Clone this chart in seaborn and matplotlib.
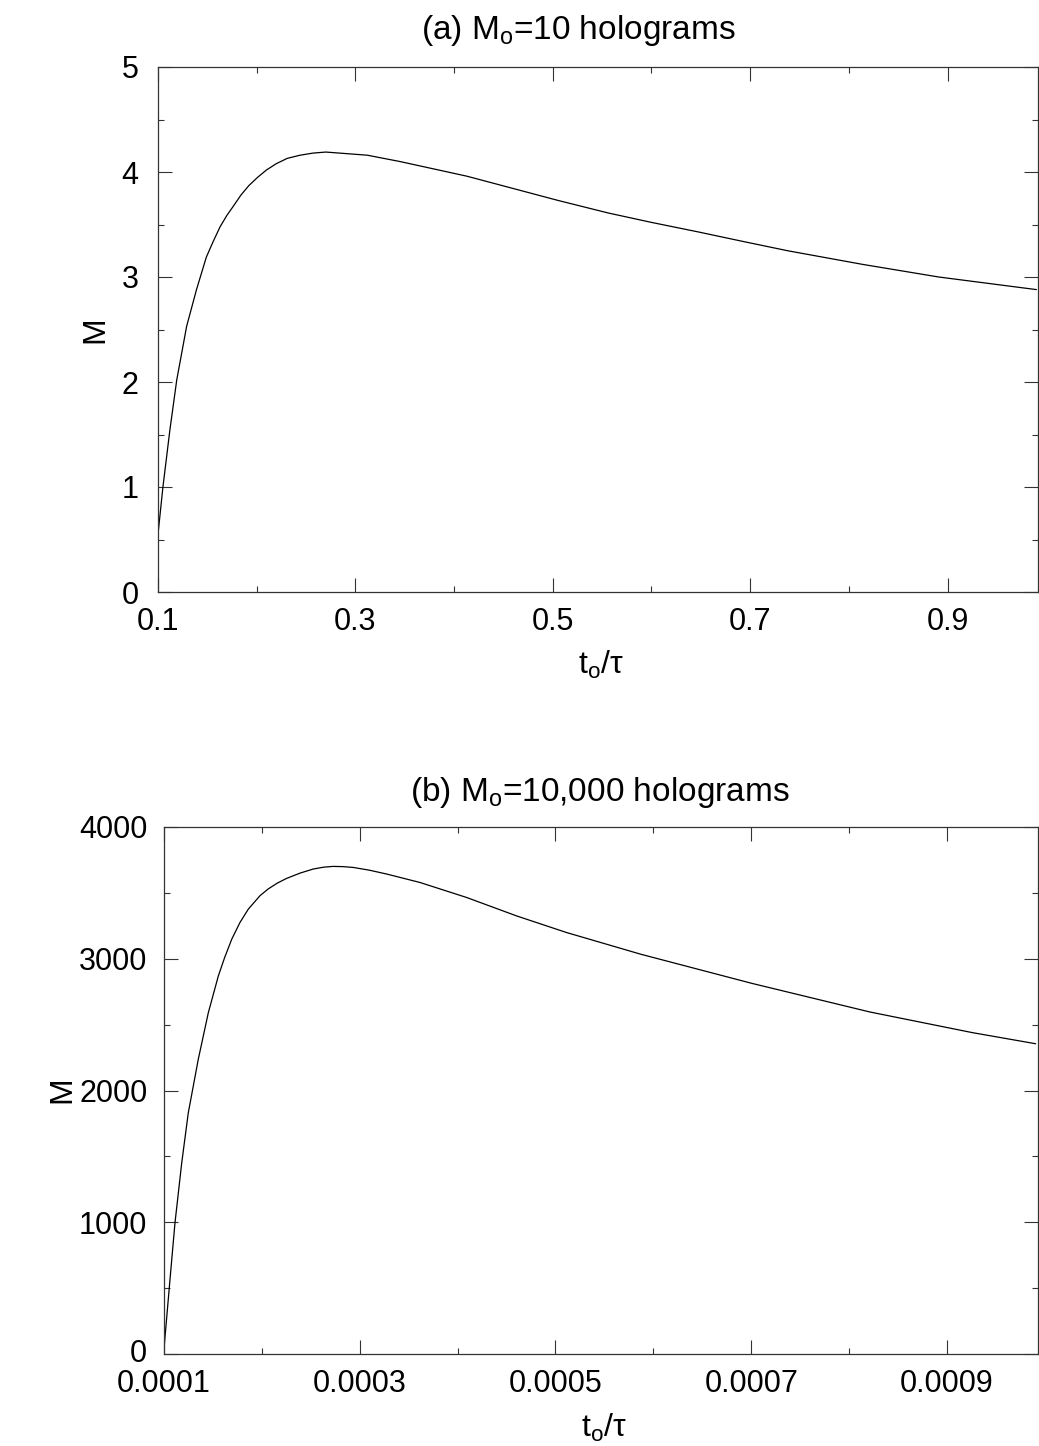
import matplotlib
matplotlib.use("Agg")
import matplotlib.pyplot as plt
import matplotlib.transforms as mtransforms
import seaborn as sns
import pandas as pd
from matplotlib.ticker import MultipleLocator

# ---- data ----
t_a = [0.100, 0.105, 0.112, 0.119, 0.129, 0.139, 0.149, 0.156, 0.163, 0.170,
       0.176, 0.184, 0.192, 0.201, 0.210, 0.220, 0.231, 0.244, 0.257, 0.270,
       0.284, 0.298, 0.312, 0.345, 0.379, 0.413, 0.457, 0.505, 0.556, 0.600,
       0.647, 0.692, 0.738, 0.814, 0.891, 0.990]
M_a = [0.55, 1.00, 1.54, 2.02, 2.53, 2.88, 3.19, 3.34, 3.48, 3.59,
       3.67, 3.78, 3.87, 3.95, 4.02, 4.08, 4.13, 4.16, 4.18, 4.19,
       4.18, 4.17, 4.16, 4.10, 4.03, 3.96, 3.85, 3.73, 3.61, 3.52,
       3.43, 3.34, 3.25, 3.12, 3.00, 2.88]

t_b = [0.0001000, 0.0001061, 0.0001112, 0.0001181, 0.0001248, 0.0001350,
       0.0001453, 0.0001555, 0.0001620, 0.0001692, 0.0001776, 0.0001861,
       0.0001980, 0.0002065, 0.0002160, 0.0002253, 0.0002390, 0.0002525,
       0.0002630, 0.0002729, 0.0002834, 0.0002934, 0.0003100, 0.0003275,
       0.0003615, 0.0004092, 0.0004603, 0.0005113, 0.0005873, 0.0007002,
       0.0008212, 0.0009261, 0.0009906]
M_b = [40, 563, 994, 1450, 1830, 2236,
       2591, 2869, 3010, 3148, 3275, 3376,
       3478, 3530, 3575, 3610, 3650, 3681,
       3695, 3701, 3699, 3693, 3672, 3643,
       3579, 3465, 3325, 3199, 3034, 2814,
       2596, 2439, 2355]

xticks_a = [0.1, 0.3, 0.5, 0.7, 0.9]
xticklabels_a = ["0.1", "0.3", "0.5", "0.7", "0.9"]
yticks_a = [0, 1, 2, 3, 4, 5]
xticks_b = [0.0001, 0.0003, 0.0005, 0.0007, 0.0009]
xticklabels_b = ["0.0001", "0.0003", "0.0005", "0.0007", "0.0009"]
yticks_b = [0, 1000, 2000, 3000, 4000]

title_a = r"(a) $\mathregular{M_o}$=10 holograms"
title_b = r"(b) $\mathregular{M_o}$=10,000 holograms"
xlabel = r"$\mathregular{t_o}$/τ"
ylabel = "M"

# ---- style ----
sns.set_style("ticks")
plt.rcParams["font.family"] = ["Liberation Sans", "DejaVu Sans"]
plt.rcParams["mathtext.fontset"] = "custom"
plt.rcParams["mathtext.rm"] = "Liberation Sans"
plt.rcParams["mathtext.it"] = "Liberation Sans:italic"
plt.rcParams["text.color"] = "black"
plt.rcParams["axes.labelcolor"] = "black"

W, H = 1039, 1446
fig = plt.figure(figsize=(W / 100, H / 100), dpi=100)
ax_a = fig.add_axes([158 / W, 1 - 592 / H, 880 / W, 525 / H])
ax_b = fig.add_axes([164 / W, 1 - 1354 / H, 874 / W, 527 / H])

df_a = pd.DataFrame({"t": t_a, "M": M_a})
df_b = pd.DataFrame({"t": t_b, "M": M_b})
sns.lineplot(data=df_a, x="t", y="M", ax=ax_a, color="black", lw=0.9, estimator=None, sort=False)
sns.lineplot(data=df_b, x="t", y="M", ax=ax_b, color="black", lw=0.9, estimator=None, sort=False)


def style(ax, xlim, ylim, xt, xtl, yt, xminor, yminor, xpad, ypad):
    ax.set_xlim(*xlim)
    ax.set_ylim(*ylim)
    ax.set_xticks(xt)
    ax.set_xticklabels(xtl)
    ax.set_yticks(yt)
    ax.xaxis.set_minor_locator(MultipleLocator(xminor))
    ax.yaxis.set_minor_locator(MultipleLocator(yminor))
    ax.tick_params(which="both", direction="in", top=True, right=True, colors="#333333",
                   labelcolor="black", width=0.8)
    ax.tick_params(which="major", length=10, labelsize=22)
    ax.tick_params(axis="x", which="major", pad=xpad)
    ax.tick_params(axis="y", which="major", pad=ypad)
    ax.tick_params(which="minor", length=4)
    for s in ax.spines.values():
        s.set_linewidth(0.9)
        s.set_color("#333333")
        s.set_visible(True)
    ax.set_xlabel("")
    ax.set_ylabel("")


style(ax_a, (0.1, 0.9916), (0, 5), xticks_a, xticklabels_a, yticks_a, 0.1, 0.5, 11, 14)
style(ax_b, (0.0001, 0.000993), (0, 4000), xticks_b, xticklabels_b, yticks_b, 0.0001, 500, 10.5, 12)

# nudge the bottom panel's "0" label up slightly so it does not collide with "0.0001"
zero_lab = ax_b.get_yticklabels()[0]
zero_lab.set_transform(zero_lab.get_transform() +
                       mtransforms.ScaledTranslation(0, 4 / 100, fig.dpi_scale_trans))

fig.text(578 / W, 1 - 31 / H, title_a, ha="center", va="center", fontsize=24)
fig.text(600 / W, 1 - 792 / H, title_b, ha="center", va="center", fontsize=24)
fig.text(601 / W, 1 - 665 / H, xlabel, ha="center", va="center", fontsize=23)
fig.text(604 / W, 1 - 1428 / H, xlabel, ha="center", va="center", fontsize=23)
fig.text(95 / W, 1 - 330 / H, ylabel, rotation=90, ha="center", va="center", fontsize=23)
fig.text(62 / W, 1 - 1090 / H, ylabel, rotation=90, ha="center", va="center", fontsize=23)

fig.savefig("out.png", dpi=100, facecolor="white")
